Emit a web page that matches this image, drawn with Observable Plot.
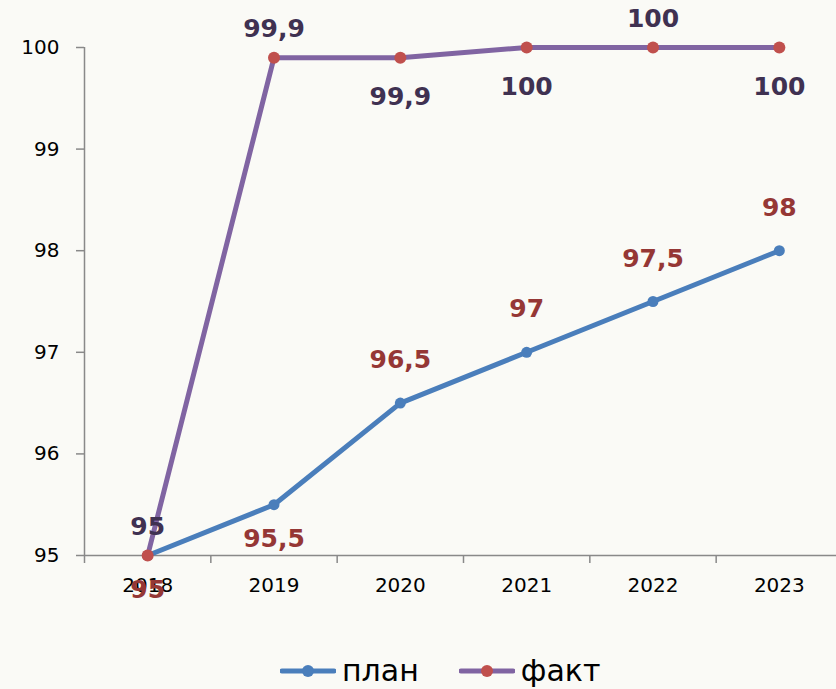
<!DOCTYPE html>
<html>
<head>
<meta charset="utf-8">
<script src="https://cdn.jsdelivr.net/npm/d3@7"></script>
<script src="https://cdn.jsdelivr.net/npm/@observablehq/plot@0.6"></script>
<style>
  html, body { margin: 0; padding: 0; background: #fafaf6; }
  #wrap { position: relative; width: 836px; height: 689px; overflow: hidden; font-family: "DejaVu Sans", Verdana, sans-serif; }
  #legend { position: absolute; left: 280px; top: 656px; display: flex; align-items: center; font-size: 30px; line-height: 30px; color: #000; }
  #legend .item { display: flex; align-items: center; }
  #legend .item svg { display: block; margin-right: 6px; }
  #legend .item + .item { margin-left: 40px; }
</style>
</head>
<body>
<div id="wrap">
  <div id="chart"></div>
  <div id="legend"></div>
</div>
<script>
// ---- data ----
const years = [2018, 2019, 2020, 2021, 2022, 2023];
const plan = [95, 95.5, 96.5, 97, 97.5, 98];
const fact = [95, 99.9, 99.9, 100, 100, 100];
const yTicks = [95, 96, 97, 98, 99, 100];
const seriesNames = ["план", "факт"];
// label placement relative to point
const planLabelSide = ["below", "below", "above", "above", "above", "above"];
const factLabelSide = ["above", "above", "below", "below", "above", "below"];

// ---- styles ----
const planColor = "#4a7ebb";
const factLineColor = "#8064a2";
const factDotColor = "#c0504d";
const planLabelColor = "#953735";
const factLabelColor = "#3f3151";
const axisColor = "#898989";

const rows = years.map((year, i) => ({
  year,
  plan: plan[i],
  fact: fact[i],
  planSide: planLabelSide[i],
  factSide: factLabelSide[i]
}));
const boundaries = [...years.map(y => y - 0.5), years[years.length - 1] + 0.5];
const fmt = v => String(v).replace(".", ",");

const labelStyle = { fontWeight: "bold", fontSize: 25, fontFamily: "DejaVu Sans" };

const chart = Plot.plot({
  width: 836,
  height: 620,
  marginTop: 47,
  marginBottom: 65,
  marginLeft: 84,
  marginRight: 0,
  x: { domain: [boundaries[0], boundaries[boundaries.length - 1]], range: [84, 842] },
  y: { domain: [95, 100] },
  style: { fontFamily: "DejaVu Sans", fontSize: "20px", background: "transparent", color: "#000", overflow: "visible" },
  marks: [
    Plot.ruleY([yTicks[0]], { stroke: axisColor, strokeWidth: 1.5 }),
    Plot.ruleX([boundaries[0]], { stroke: axisColor, strokeWidth: 1.5 }),
    Plot.axisX(boundaries, { tickSize: 8, tickFormat: () => "", stroke: axisColor, strokeWidth: 1.5, label: null }),
    Plot.axisX(years, { tickSize: 0, tickPadding: 22, tickFormat: d => String(d), label: null, fill: "#000" }),
    Plot.axisY(yTicks, { tickSize: 8, tickPadding: 17, tickFormat: d => String(d), stroke: axisColor, strokeWidth: 1.5, label: null, fill: "#000" }),
    Plot.line(rows, { x: "year", y: "plan", stroke: planColor, strokeWidth: 5 }),
    Plot.dot(rows, { x: "year", y: "plan", r: 5.5, fill: planColor }),
    Plot.line(rows, { x: "year", y: "fact", stroke: factLineColor, strokeWidth: 5 }),
    Plot.dot(rows, { x: "year", y: "fact", r: 6, fill: factDotColor }),
    Plot.text(rows, { filter: d => d.planSide === "above", x: "year", y: "plan", text: d => fmt(d.plan), dy: -43, fill: planLabelColor, ...labelStyle }),
    Plot.text(rows, { filter: d => d.planSide === "below", x: "year", y: "plan", text: d => fmt(d.plan), dy: 34, fill: planLabelColor, ...labelStyle }),
    Plot.text(rows, { filter: d => d.factSide === "above", x: "year", y: "fact", text: d => fmt(d.fact), dy: -29, fill: factLabelColor, ...labelStyle }),
    Plot.text(rows, { filter: d => d.factSide === "below", x: "year", y: "fact", text: d => fmt(d.fact), dy: 39, fill: factLabelColor, ...labelStyle })
  ]
});
document.getElementById("chart").appendChild(chart);

// ---- legend ----
const legendItems = [
  { name: seriesNames[0], line: planColor, dot: planColor },
  { name: seriesNames[1], line: factLineColor, dot: factDotColor }
];
const legend = d3.select("#legend");
legendItems.forEach(it => {
  const item = legend.append("div").attr("class", "item");
  const svg = item.append("svg").attr("width", 56).attr("height", 20);
  svg.append("line").attr("x1", 2).attr("x2", 54).attr("y1", 10).attr("y2", 10)
    .attr("stroke", it.line).attr("stroke-width", 5).attr("stroke-linecap", "round");
  svg.append("circle").attr("cx", 28).attr("cy", 10).attr("r", 6).attr("fill", it.dot);
  item.append("span").text(it.name);
});
</script>
</body>
</html>
